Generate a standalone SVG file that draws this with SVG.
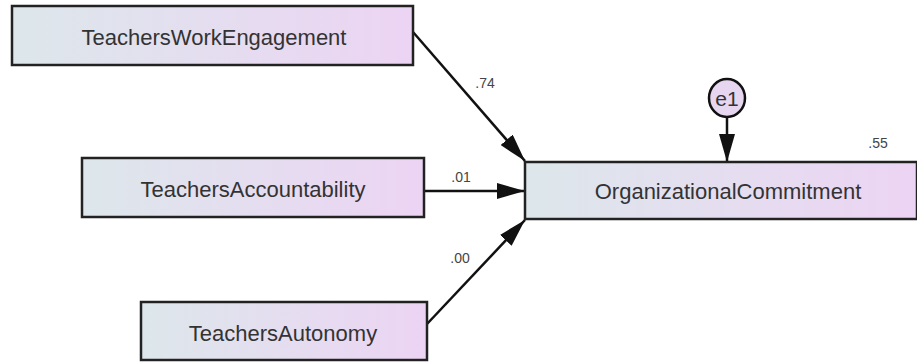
<svg xmlns="http://www.w3.org/2000/svg" width="917" height="362" viewBox="0 0 917 362">
<defs>
<linearGradient id="g" x1="0" y1="0" x2="1" y2="0">
<stop offset="0" stop-color="#dde7eb"/>
<stop offset="1" stop-color="#ecd4f4"/>
</linearGradient>
<marker id="ah" markerUnits="userSpaceOnUse" markerWidth="28" markerHeight="16" refX="28" refY="8" orient="auto">
<path d="M0,0 L28,8 L0,16 Z" fill="#111"/>
</marker>
<style>
.box{fill:url(#g);stroke:#222;stroke-width:2.5}
.lbl{font-family:"Liberation Sans",Arial,sans-serif;font-size:22px;fill:#333;text-anchor:middle}
.num{font-family:"Liberation Sans",Arial,sans-serif;font-size:14px;fill:#444;text-anchor:middle}
.edge{stroke:#111;stroke-width:2.5;fill:none;marker-end:url(#ah)}
</style>
</defs>
<g id="connectors">
<line class="edge" x1="413" y1="32" x2="525" y2="161"/>
<line class="edge" x1="424" y1="191" x2="525" y2="191"/>
<line class="edge" x1="427" y1="324" x2="525" y2="220"/>
<line class="edge" x1="727" y1="117" x2="727" y2="162"/>
</g>
<g id="TeachersWorkEngagement">
<rect class="box" x="12" y="6" width="401" height="59"/>
<text class="lbl" x="214" y="45">TeachersWorkEngagement</text>
</g>
<g id="TeachersAccountability">
<rect class="box" x="82" y="158" width="342" height="59"/>
<text class="lbl" x="253" y="197">TeachersAccountability</text>
</g>
<g id="TeachersAutonomy">
<rect class="box" x="141" y="302" width="286" height="58"/>
<text class="lbl" x="283" y="341">TeachersAutonomy</text>
</g>
<g id="OrganizationalCommitment">
<rect class="box" x="525" y="162" width="392" height="57"/>
<text class="lbl" x="728" y="199">OrganizationalCommitment</text>
</g>
<g id="e1">
<ellipse cx="727" cy="98" rx="18" ry="19" fill="#e6d6ef" stroke="#111" stroke-width="2.5"/>
<text class="lbl" x="727" y="106" style="font-size:21px">e1</text>
</g>
<g id="labels">
<text class="num" x="485" y="88">.74</text>
<text class="num" x="461" y="182">.01</text>
<text class="num" x="460" y="263">.00</text>
<text class="num" x="878" y="148">.55</text>
</g>
</svg>
